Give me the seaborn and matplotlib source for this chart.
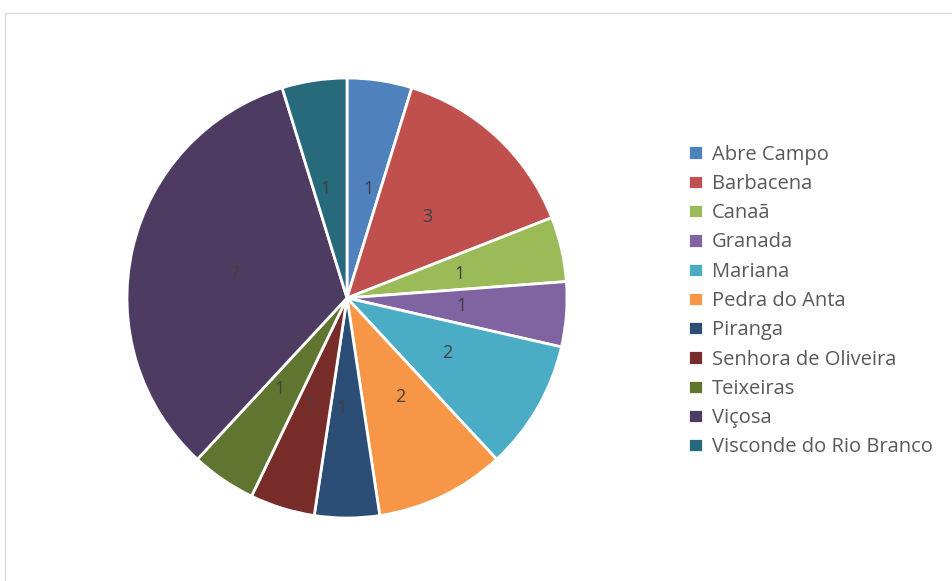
import matplotlib
matplotlib.use("Agg")
import matplotlib.pyplot as plt
import seaborn as sns
from matplotlib.lines import Line2D

# -----------------------------
# DATA
# -----------------------------
cities = ['Abre Campo', 'Barbacena', 'Canaã', 'Granada', 'Mariana',
          'Pedra do Anta', 'Piranga', 'Senhora de Oliveira', 'Teixeiras',
          'Viçosa', 'Visconde do Rio Branco']
counts = [1, 3, 1, 1, 2, 2, 1, 1, 1, 7, 1]
colors = ['#4F81BD', '#C0504D', '#9BBB59', '#8064A2', '#4BACC6', '#F79646',
          '#2C4D75', '#772C2A', '#5F7530', '#4D3B62', '#276A7C']

# -----------------------------
# PLOT
# -----------------------------
sns.set_theme(style="white")
plt.rcParams['font.family'] = ['Open Sans', 'DejaVu Sans']

fig = plt.figure(figsize=(9.52, 5.81), dpi=100)
W, H = 952, 581
cx, cy, r = 347, 298, 220
ax = fig.add_axes([(cx - r) / W, (H - cy - r) / H, 2 * r / W, 2 * r / H])

wedges, texts = ax.pie(
    counts,
    colors=colors,
    startangle=90,
    counterclock=False,
    labels=[str(c) for c in counts],
    labeldistance=0.5,
    wedgeprops={'edgecolor': 'white', 'linewidth': 2},
    textprops={'fontsize': 13, 'color': '#404040'},
)
ax.set_xlim(-1, 1)
ax.set_ylim(-1, 1)
ax.set_aspect('equal')

fig.legend(
    wedges, cities,
    loc='center left',
    bbox_to_anchor=(670 / W, 1 - 301 / H),
    frameon=False,
    fontsize=14.5,
    labelcolor='#595959',
    handlelength=0.72,
    handleheight=0.72,
    handletextpad=0.45,
    labelspacing=0.46,
)

# chart area border (light grey frame)
frame_color = '#d9d9d9'
fig.add_artist(Line2D([4.5 / W, 1], [1 - 12.5 / H, 1 - 12.5 / H], color=frame_color, lw=1))
fig.add_artist(Line2D([4.5 / W, 4.5 / W], [0, 1 - 12.5 / H], color=frame_color, lw=1))

plt.savefig("out.png", dpi=100)
